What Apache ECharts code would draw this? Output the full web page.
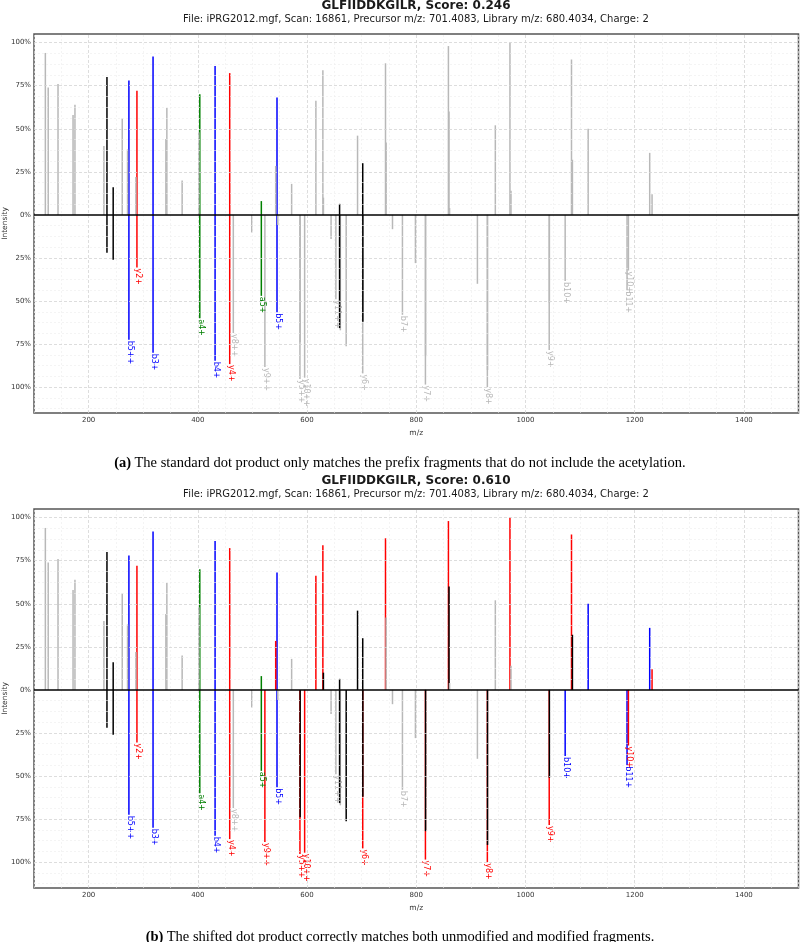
<!DOCTYPE html>
<html><head><meta charset="utf-8">
<script src="https://cdn.jsdelivr.net/npm/echarts@6/dist/echarts.min.js"></script>
<style>html,body{margin:0;padding:0;background:#fff}#c{width:800px;height:942px}</style>
</head><body><div id="c"></div>
<script>
// ---- tick labels / grid values ----
const xTicks = [200, 400, 600, 800, 1000, 1200, 1400];
const xMinor = [100, 150, 250, 300, 350, 450, 500, 550, 650, 700, 750, 850, 900, 950, 1050, 1100, 1150, 1250, 1300, 1350, 1450, 1500];
const yTicks = [-100, -75, -50, -25, 0, 25, 50, 75, 100];
const yMinor = [-112.5, -106.25, -93.75, -87.5, -81.25, -68.75, -62.5, -56.25, -43.75, -37.5, -31.25, -18.75, -12.5, -6.25,
                6.25, 12.5, 18.75, 31.25, 37.5, 43.75, 56.25, 62.5, 68.75, 81.25, 87.5, 93.75];

// ---- query spectrum (top), same peaks in both panels ----
const queryMz = [120.8, 126, 144, 171.5, 175, 228, 233.6, 245, 261.6, 271.3, 273.8, 286.6, 288.5, 318, 341.5, 343.3, 371.3,
  401.8, 403.6, 431.6, 458.4, 516.3, 542.6, 545, 571.8, 616.2, 629, 630, 659.6, 692.5, 702, 743.7, 744.8, 858.9, 860, 861,
  944.8, 971.6, 973.5, 1084.3, 1086, 1114.8, 1227.5, 1231.8];
const queryIntensity = [94, 74, 76, 58, 64, 40, 80, 16, 56, 38, 78, 22, 72, 92, 44, 62, 20,
  48, 70, 86.4, 82.3, 8, 28.4, 68.2, 18, 66.3, 84, 10, 6.4, 46, 30, 88, 42, 98, 60, 4,
  52, 100, 14, 90.2, 32, 50, 36, 12];
// colour codes: n = unmatched (grey), k = black, b = blue, r = red, g = green
const queryColorA = ['n','n','n','n','n','n','k','k','n','n','b','n','r','b','n','n','n',
  'n','g','b','r','g','n','b','n','n','n','n','k','n','k','n','n','n','n','n',
  'n','n','n','n','n','n','n','n'];
const queryColorB = ['n','n','n','n','n','n','k','k','n','n','b','n','r','b','n','n','n',
  'n','g','b','r','g','r','b','n','r','r','k','k','k','k','r','n','r','k','n',
  'n','r','n','r','k','b','b','r'];

// ---- library spectrum (bottom, mirrored) ----
const libMz = [233.6, 245, 273.8, 288.5, 318, 403.6, 431.6, 458.4, 465, 498.7, 516.3, 522.8, 545, 546.5, 587, 587.4,
  595.6, 644, 652.8, 659.6, 661, 671.7, 702, 702.2, 756.5, 774.7, 798.5, 816.8, 817.1, 912, 930.2, 930.5,
  1043.5, 1043.8, 1072.7, 1186, 1188.5];
const libIntensity = [22, 26, 72.5, 30.5, 80, 60, 84.6, 86.6, 68.6, 10.2, 47, 88.3, 56.5, 5.8, 95.3, 74,
  94.5, 14, 49, 65.7, 67, 76.3, 92, 62, 8.3, 58, 28, 98.5, 82, 40, 100, 90,
  78.5, 51, 38.4, 43.8, 32.3];
const libColorA = ['k','k','b','r','b','g','b','r','n','n','g','n','b','n','n','n',
  'n','n','n','k','n','n','n','k','n','n','n','n','n','n','n','n',
  'n','n','n','n','n'];
const libColorB = ['k','k','b','r','b','g','b','r','n','n','g','r','b','n','r','k',
  'r','n','n','k','n','k','r','k','n','n','n','r','k','n','r','k',
  'r','k','b','b','r'];
const libLabel = ['', '', 'b5++', 'y2+', 'b3+', 'a4+', 'b4+', 'y4+', 'y8++', '', 'a5+', 'y9++', 'b5+', '', 'y5++', '',
  'y10++', '', 'y11++', '', '', '', 'y6+', '', '', 'b7+', '', 'y7+', '', '', 'y8+', '',
  'y9+', '', 'b10+', 'b11+', 'y10+'];

const COLORS = {n: '#b8b8b8', k: '#000000', b: '#0000ff', r: '#ff0000', g: '#008000'};
const FONT = '"DejaVu Sans", sans-serif';

function peakData(mz, inten, sign) {
  const idx = mz.map((_, i) => i);
  idx.sort((a, b) => inten[b] - inten[a]);
  return idx.map(i => ({value: [mz[i], sign * inten[i], i]}));
}

function makeRender(colors, labels) {
  return function (params, api) {
    const i = api.value(2);
    const mz = api.value(0), v = api.value(1);
    const p0 = api.coord([mz, 0]), p1 = api.coord([mz, v]);
    const col = COLORS[colors[i]];
    const children = [{
      type: 'line',
      shape: {x1: p0[0], y1: p0[1], x2: p1[0], y2: p1[1]},
      style: {stroke: col, lineWidth: 1.5}
    }];
    if (labels && labels[i]) {
      children.push({
        type: 'text', x: p1[0] + 1, y: p1[1] + 1, rotation: -Math.PI / 2,
        style: {text: labels[i], fill: col, fontSize: 8, fontFamily: FONT,
                align: 'left', verticalAlign: 'middle', textAlign: 'left', textVerticalAlign: 'middle'}
      });
    }
    return {type: 'group', children};
  };
}

function gridLineSeries(gi) {
  const major = {color: '#d4d4d4', width: 0.8, type: [3, 2]};
  const minor = {color: '#ededed', width: 0.6, type: [2, 2]};
  const data = [];
  xMinor.forEach(v => data.push({xAxis: v, lineStyle: minor}));
  yMinor.forEach(v => data.push({yAxis: v, lineStyle: minor}));
  xTicks.forEach(v => data.push({xAxis: v, lineStyle: major}));
  yTicks.forEach(v => { if (v !== 0) data.push({yAxis: v, lineStyle: major}); });
  return {
    type: 'line', xAxisIndex: gi, yAxisIndex: gi, data: [], z: 1, silent: true,
    markLine: {symbol: ['none', 'none'], silent: true, animation: false, label: {show: false}, data}
  };
}

function zeroSeries(gi) {
  return {
    type: 'line', xAxisIndex: gi, yAxisIndex: gi, data: [], z: 5, silent: true,
    markLine: {symbol: ['none', 'none'], silent: true, animation: false, label: {show: false},
      data: [{yAxis: 0, lineStyle: {color: '#000', width: 1.5, type: 'solid'}}]}
  };
}

function peakSeries(gi, mz, inten, sign, colors, labels) {
  return {
    type: 'custom', coordinateSystem: 'cartesian2d', xAxisIndex: gi, yAxisIndex: gi, z: 3,
    silent: true, clip: true, encode: {x: 0, y: 1},
    renderItem: makeRender(colors, labels),
    data: peakData(mz, inten, sign)
  };
}

const grids = [
  {left: 34, top: 34, width: 764.5, height: 379, containLabel: false, outerBoundsMode: 'none',
   show: true, borderColor: '#555', borderWidth: 1.5, backgroundColor: '#fff'},
  {left: 34, top: 509, width: 764.5, height: 379, containLabel: false, outerBoundsMode: 'none',
   show: true, borderColor: '#555', borderWidth: 1.5, backgroundColor: '#fff'}
];
function xAx(gi) {
  return {type: 'value', gridIndex: gi, min: 100, max: 1500, name: 'm/z', nameLocation: 'middle', nameGap: 16,
    nameMoveOverlap: false,
    nameTextStyle: {fontSize: 7.5, fontFamily: FONT, color: '#333'},
    axisLine: {show: false}, axisTick: {show: false}, splitLine: {show: false},
    axisLabel: {customValues: xTicks, formatter: v => String(v), fontSize: 7, fontFamily: FONT, color: '#333', margin: 4}};
}
function yAx(gi) {
  return {type: 'value', gridIndex: gi, min: -115, max: 105, name: 'Intensity', nameLocation: 'middle', nameGap: 25,
    nameMoveOverlap: false,
    nameTextStyle: {fontSize: 7.5, fontFamily: FONT, color: '#333'},
    axisLine: {show: false}, axisTick: {show: false}, splitLine: {show: false},
    axisLabel: {customValues: yTicks, formatter: v => Math.abs(v) + '%', fontSize: 7, fontFamily: FONT, color: '#333', margin: 3}};
}

const titleA = 'GLFIIDDKGILR, Score: 0.246';
const titleB = 'GLFIIDDKGILR, Score: 0.610';
const subtitle = 'File: iPRG2012.mgf, Scan: 16861, Precursor m/z: 701.4083, Library m/z: 680.4034, Charge: 2';
const captionA = 'The standard dot product only matches the prefix fragments that do not include the acetylation.';
const captionB = 'The shifted dot product correctly matches both unmodified and modified fragments.';

function txt(x, y, text, size, weight) {
  return {type: 'text', x, y, silent: true, style: {text, fontSize: size, fontWeight: weight || 'normal', fontFamily: FONT,
    fill: '#1a1a1a', align: 'center', verticalAlign: 'middle', textAlign: 'center', textVerticalAlign: 'middle'}};
}
function caption(y, tag, text) {
  return {type: 'text', x: 400, y, silent: true, style: {
    text: '{b|' + tag + '} {n|' + text + '}', align: 'center', verticalAlign: 'middle', textAlign: 'center', textVerticalAlign: 'middle',
    rich: {b: {fontFamily: '"Liberation Serif", serif', fontWeight: 'bold', fontSize: 14.5, fill: '#000'},
           n: {fontFamily: '"Liberation Serif", serif', fontSize: 14.5, fill: '#000'}}}};
}

const chart = echarts.init(document.getElementById('c'), null, {renderer: 'canvas'});
chart.setOption({
  animation: false,
  backgroundColor: '#fff',
  grid: grids,
  xAxis: [xAx(0), xAx(1)],
  yAxis: [yAx(0), yAx(1)],
  series: [
    gridLineSeries(0), gridLineSeries(1),
    peakSeries(0, queryMz, queryIntensity, 1, queryColorA, null),
    peakSeries(0, libMz, libIntensity, -1, libColorA, libLabel),
    peakSeries(1, queryMz, queryIntensity, 1, queryColorB, null),
    peakSeries(1, libMz, libIntensity, -1, libColorB, libLabel),
    zeroSeries(0), zeroSeries(1)
  ],
  graphic: [
    txt(416, 6, titleA, 12, 'bold'),
    txt(416, 19, subtitle, 10),
    caption(463, '(a)', captionA),
    txt(416, 481, titleB, 12, 'bold'),
    txt(416, 494, subtitle, 10),
    caption(937, '(b)', captionB)
  ]
});
</script></body></html>
